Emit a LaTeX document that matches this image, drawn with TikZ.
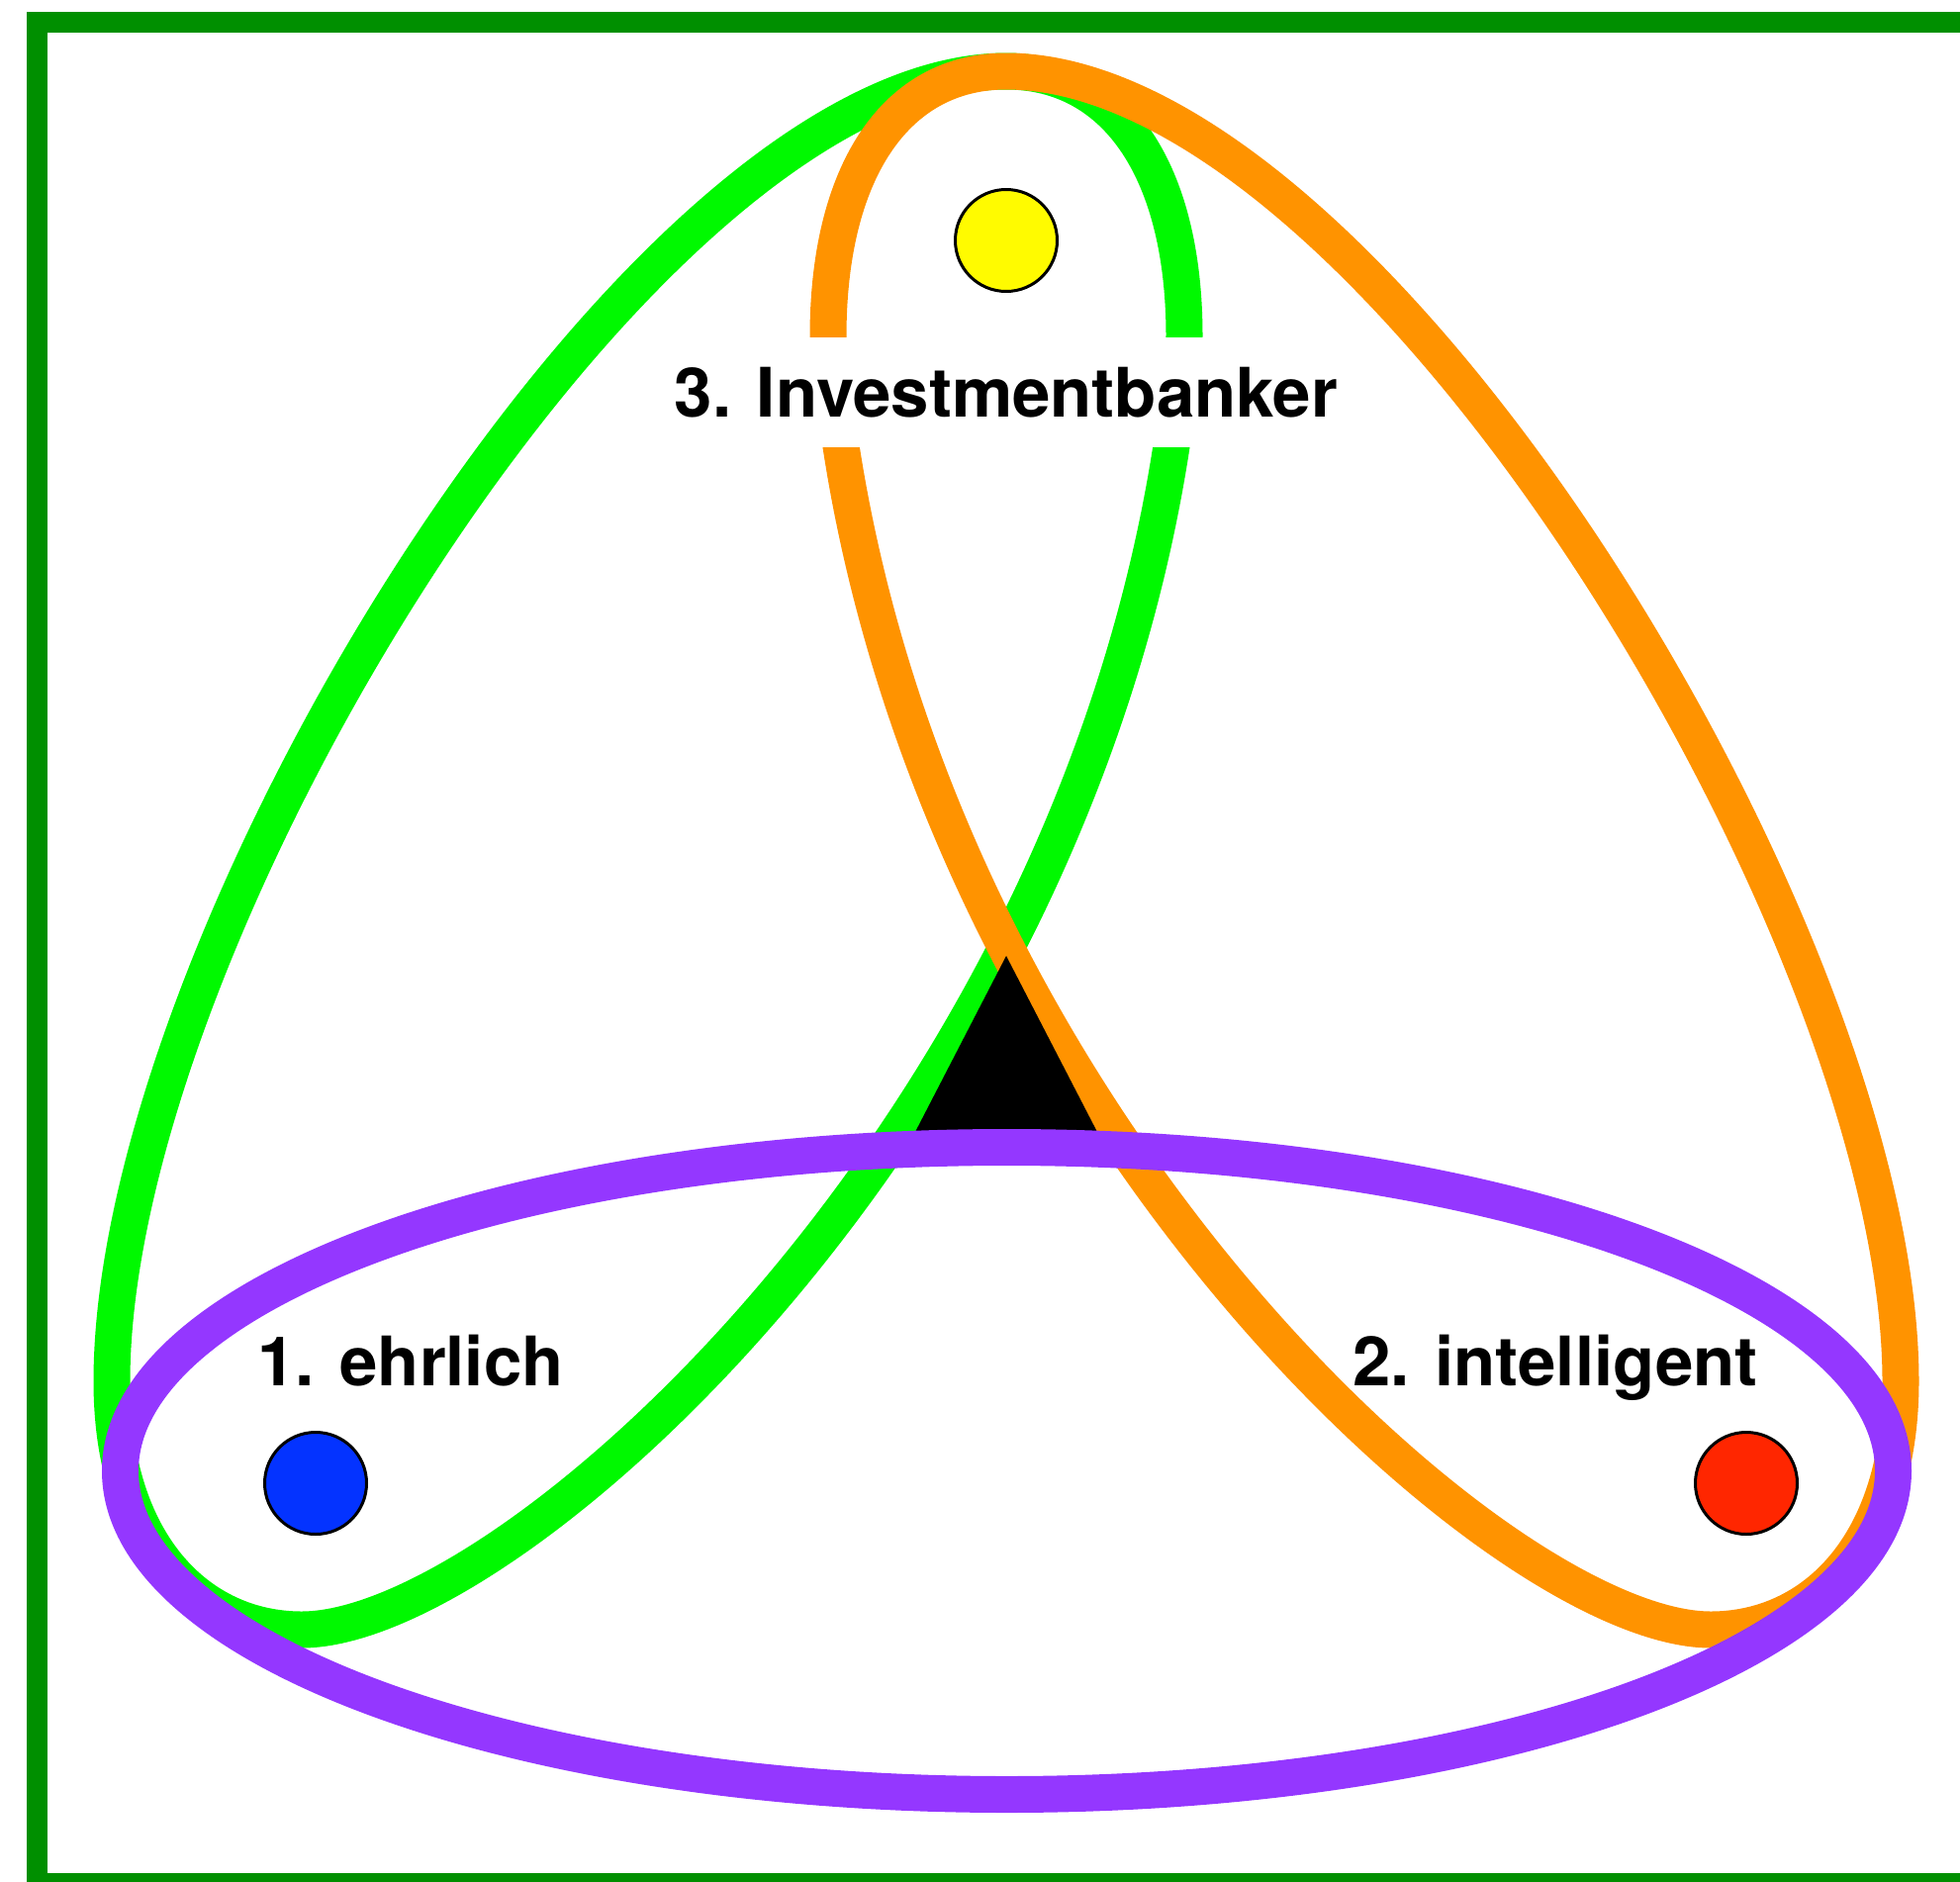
\documentclass[tikz,border=0pt]{standalone}
\usepackage{fontspec}
\setmainfont{TeX Gyre Heros}
\definecolor{clover}{HTML}{008F00}
\definecolor{spring}{HTML}{00F900}
\definecolor{tangerine}{HTML}{FF9300}
\definecolor{grape}{HTML}{9437FF}
\definecolor{blueberry}{HTML}{0433FF}
\definecolor{maraschino}{HTML}{FF2600}
\definecolor{lemon}{HTML}{FFFB00}
\tikzset{
  band/.style={line width=37pt, line join=round},
  dot/.style={circle, draw=black, line width=3pt, minimum size=103pt, inner sep=0pt},
  lbl/.style={font=\bfseries\fontsize{69}{80}\selectfont, text=black, inner sep=0pt},
}
\begin{document}
\begin{tikzpicture}[x=1pt, y=-1pt]
\useasboundingbox (0,0) rectangle (1981,1901);
\clip (0,0) rectangle (1981,1901);
% frame
\draw[clover, line width=21pt] (37.5,22.5) rectangle (2010,1903.5);
% green loop
\draw[band, spring] (1197,340) .. controls (1197,174) and (1129,72) .. (1017,72)
  .. controls (647,72) and (113,946) .. (113,1396)
  .. controls (113,1560) and (200,1647) .. (305,1647)
  .. controls (525,1647) and (1137,1090) .. cycle;
% orange loop (mirror image)
\begin{scope}[shift={(2034,0)}, xscale=-1]
\draw[band, tangerine] (1197,340) .. controls (1197,174) and (1129,72) .. (1017,72)
  .. controls (647,72) and (113,946) .. (113,1396)
  .. controls (113,1560) and (200,1647) .. (305,1647)
  .. controls (525,1647) and (1137,1090) .. cycle;
\end{scope}
% black triangle
\fill[black] (1017,966) -- (925,1144) -- (1109,1144) -- cycle;
% purple ellipse
\draw[band, grape] (1017.5,1486.5) ellipse [x radius=896pt, y radius=327pt];
% dots
\node[dot, fill=lemon] (ydot) at (1017,243) {};
\node[dot, fill=blueberry] (bdot) at (319,1499) {};
\node[dot, fill=maraschino] (rdot) at (1765,1499) {};
% labels
\node[lbl, fill=white, text height=50pt, text depth=0pt, inner xsep=15pt, inner ysep=30.5pt] (l3) at (1017,396) {3. Investmentbanker};
\node[lbl, anchor=base] (l1) at (415,1400) {1. ehrlich};
\node[lbl, anchor=base] (l2) at (1572,1400) {2. intelligent};
\end{tikzpicture}
\end{document}
